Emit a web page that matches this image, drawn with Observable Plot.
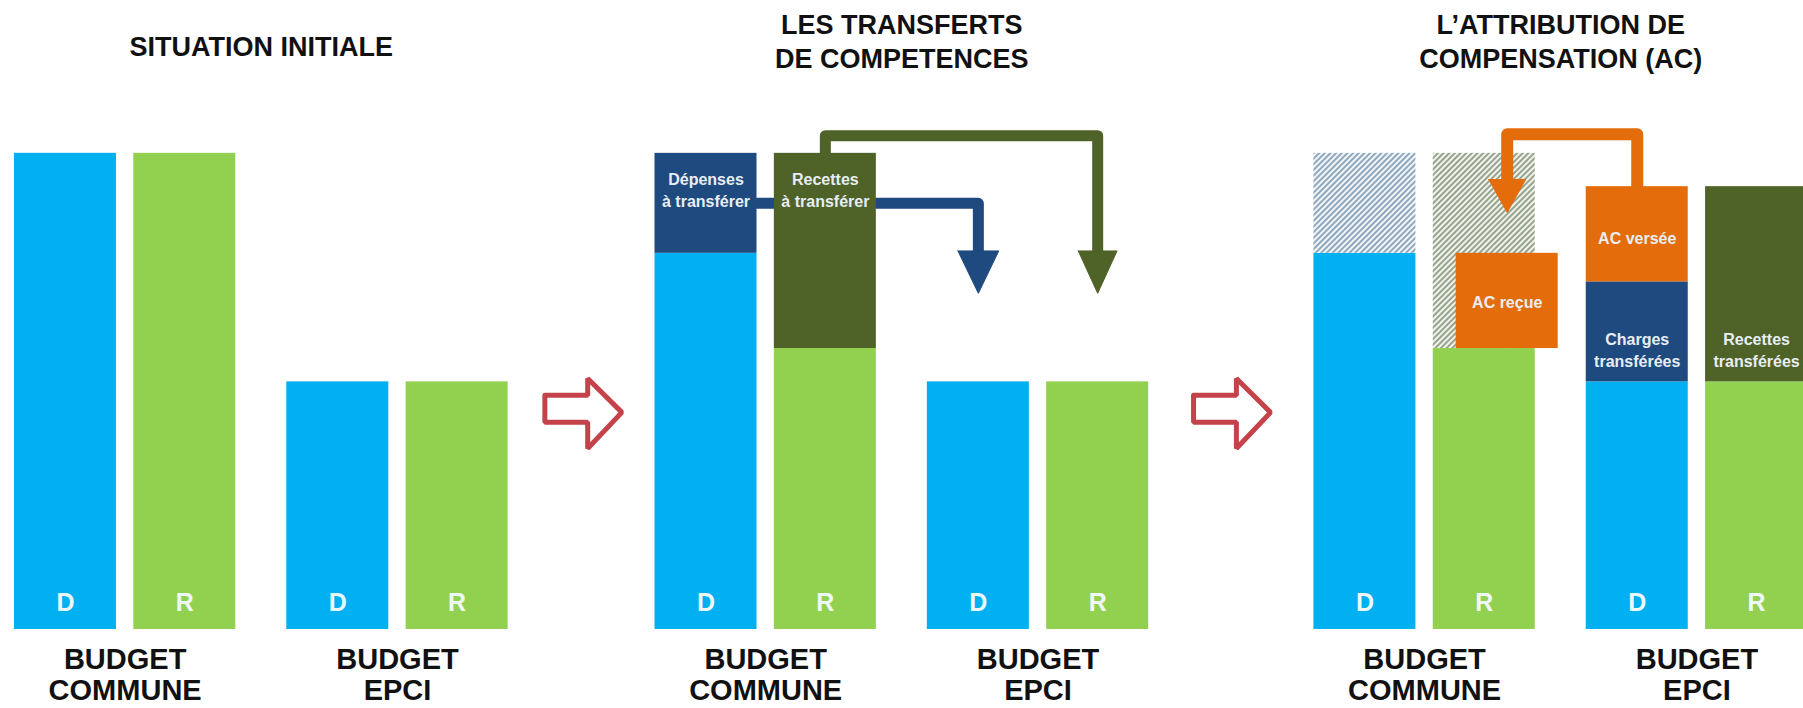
<!DOCTYPE html>
<html>
<head>
<meta charset="utf-8">
<script src="https://cdn.jsdelivr.net/npm/d3@7"></script>
<script src="https://cdn.jsdelivr.net/npm/@observablehq/plot@0.6"></script>
<style>
  html, body { margin: 0; padding: 0; background: #fff; }
  svg { display: block; }
</style>
</head>
<body>
<div id="chart"></div>
<script>
// ---------- data ----------
const stageTitles = ["SITUATION INITIALE", "LES TRANSFERTS\nDE COMPETENCES", "L’ATTRIBUTION DE\nCOMPENSATION (AC)"];
const budgetLabels = ["BUDGET\nCOMMUNE", "BUDGET\nEPCI"];
const columnLetters = ["D", "R", "D", "R"];

// stacked segments: [stage, column, from, to, kind]  (commune budget = 100)
const segments = [
  [0, 0, 0, 100, "lightBlue"],
  [0, 1, 0, 100, "lightGreen"],
  [0, 2, 0, 52, "lightBlue"],
  [0, 3, 0, 52, "lightGreen"],
  [1, 0, 0, 79, "lightBlue"],
  [1, 0, 79, 100, "darkBlue"],
  [1, 1, 0, 59, "lightGreen"],
  [1, 1, 59, 100, "darkGreen"],
  [1, 2, 0, 52, "lightBlue"],
  [1, 3, 0, 52, "lightGreen"],
  [2, 0, 0, 79, "lightBlue"],
  [2, 0, 79, 100, "hatchD"],
  [2, 1, 0, 59, "lightGreen"],
  [2, 1, 59, 100, "hatchR"],
  [2, 2, 0, 52, "lightBlue"],
  [2, 2, 52, 73, "darkBlue"],
  [2, 2, 73, 93, "orange"],
  [2, 3, 0, 52, "lightGreen"],
  [2, 3, 52, 93, "darkGreen"]
];
// AC reçue box (stage 3, shifted over the commune R column)
const acRecue = [[2, 1, 59, 79, "orange"]];

// box labels: [stage, column, value, text]
const boxLabels = [
  [1, 0, 92.5, "Dépenses\nà transférer"],
  [1, 1, 92.5, "Recettes\nà transférer"],
  [2, 2, 82.5, "AC versée"],
  [2, 2, 59, "Charges\ntransférées"],
  [2, 3, 59, "Recettes\ntransférées"]
];
const acRecueLabel = [[2, 1, 69, "AC reçue"]];

// ---------- layout ----------
const stageStart = [0, 6.28, 12.74];
const columnOffset = [0, 1.17, 2.67, 3.84];
const barW = 1;
const acShift = 0.225;
const palette = {
  lightBlue: "#00b0f0", lightGreen: "#92d050", darkBlue: "#1f4a80",
  darkGreen: "#4f6228", orange: "#e46c0a", hatchD: "url(#hatchD)", hatchR: "url(#hatchR)"
};
const colX = (s, c) => stageStart[s] + columnOffset[c];
const toRect = (shift = 0) => ([s, c, a, b, kind]) => ({x1: colX(s, c) + shift, x2: colX(s, c) + shift + barW, y1: a, y2: b, kind});
const rects = segments.map(toRect());
const acRects = acRecue.map(toRect(acShift));

// letters under each bar
const letterData = [];
stageStart.forEach((_, s) => columnLetters.forEach((t, c) => letterData.push({x: colX(s, c) + barW / 2, text: t})));
// titles and budget captions
const stageCenter = s => stageStart[s] + (columnOffset[3] + barW) / 2;
const titleData = stageTitles.map((t, s) => ({x: stageCenter(s), y: t.includes("\n") ? 123.8 : 122.8, text: t}));
const budgetData = [];
stageStart.forEach((_, s) => {
  budgetData.push({x: stageStart[s] + (columnOffset[1] + barW) / 2, text: budgetLabels[0]});
  budgetData.push({x: stageStart[s] + (columnOffset[2] + columnOffset[3] + barW) / 2, text: budgetLabels[1]});
});
const boxLabelData = boxLabels.map(([s, c, v, t]) => ({x: colX(s, c) + barW / 2, y: v, text: t}))
  .concat(acRecueLabel.map(([s, c, v, t]) => ({x: colX(s, c) + acShift + barW / 2, y: v, text: t})));

// flow arrows
const cx = (s, c) => colX(s, c) + barW / 2;
const blueLine = [{x: colX(1, 0) + barW, y: 89.5}, {x: cx(1, 2), y: 89.5}, {x: cx(1, 2), y: 79}];
const greenLine = [{x: cx(1, 1), y: 100}, {x: cx(1, 1), y: 103.7}, {x: cx(1, 3), y: 103.7}, {x: cx(1, 3), y: 79}];
const orangeLine = [{x: cx(2, 2), y: 93}, {x: cx(2, 2), y: 104}, {x: cx(2, 1) + acShift, y: 104}, {x: cx(2, 1) + acShift, y: 94}];
const head = (x, top, tip, hw) => [{x: x - hw, y: top}, {x: x + hw, y: top}, {x, y: tip}, {x: x - hw, y: top}];
const blueHead = head(cx(1, 2), 79.5, 70.6, 0.2);
const greenHead = head(cx(1, 3), 79.5, 70.6, 0.19);
const orangeHead = head(cx(2, 1) + acShift, 94.5, 87.6, 0.18);

// hollow red arrows between stages
const redArrowStart = [5.2, 11.56];
const redArrow = x0 => [
  [0, 49.2], [0.42, 49.2], [0.42, 52.7], [0.755, 45.6], [0.42, 38.0], [0.42, 43.5], [0, 43.5], [0, 49.2]
].map(([dx, y]) => ({x: x0 + dx, y, id: x0}));
const redData = redArrowStart.flatMap(redArrow);

const font = "'Liberation Sans', Arial, sans-serif";
const kinds = Object.keys(palette);

const svg = Plot.plot({
  width: 1803, height: 708, margin: 0,
  x: {domain: [-0.137, 17.54], axis: null},
  y: {domain: [-16.6, 132.1], axis: null},
  style: {fontFamily: font, background: "white", overflow: "hidden"},
  marks: [
    Plot.line(blueLine, {x: "x", y: "y", stroke: palette.darkBlue, strokeWidth: 11, strokeLinejoin: "round"}),
    ...kinds.map(k => Plot.rect(rects.filter(d => d.kind === k), {x1: "x1", x2: "x2", y1: "y1", y2: "y2", fill: palette[k]})),
    Plot.rect(acRects, {x1: "x1", x2: "x2", y1: "y1", y2: "y2", fill: palette.orange}),
    Plot.line(greenLine, {x: "x", y: "y", stroke: palette.darkGreen, strokeWidth: 11, strokeLinejoin: "round"}),
    Plot.line(orangeLine, {x: "x", y: "y", stroke: palette.orange, strokeWidth: 12, strokeLinejoin: "round"}),
    Plot.line(blueHead, {x: "x", y: "y", stroke: palette.darkBlue, fill: palette.darkBlue, strokeWidth: 1}),
    Plot.line(greenHead, {x: "x", y: "y", stroke: palette.darkGreen, fill: palette.darkGreen, strokeWidth: 1}),
    Plot.line(orangeHead, {x: "x", y: "y", stroke: palette.orange, fill: palette.orange, strokeWidth: 1}),
    Plot.line(redData, {x: "x", y: "y", z: "id", stroke: "#c4434b", fill: "white", strokeWidth: 5, strokeLinejoin: "miter"}),
    Plot.text(boxLabelData, {x: "x", y: "y", text: "text", fill: "#e8eef4", fontSize: 16, fontWeight: "bold", lineHeight: 1.4, fontFamily: font}),
    Plot.text(letterData, {x: "x", y: 5.5, text: "text", fill: "#eef8fc", fontSize: 25, fontWeight: "bold", fontFamily: font}),
    Plot.text(titleData, {x: "x", y: "y", text: "text", fill: "#111", fontSize: 27, fontWeight: "bold", lineHeight: 1.27, fontFamily: font}),
    Plot.text(budgetData, {x: "x", y: -9.5, text: "text", fill: "#111", fontSize: 29, fontWeight: "bold", lineHeight: 1.07, fontFamily: font})
  ]
});

// hatch patterns
const defs = d3.select(svg).insert("defs", ":first-child");
[["hatchD", "#f3f6f9", "#8fa8bd"], ["hatchR", "#f1f3ee", "#98a38c"]].forEach(([id, bg, fg]) => {
  const p = defs.append("pattern").attr("id", id).attr("width", 4).attr("height", 4)
    .attr("patternUnits", "userSpaceOnUse").attr("patternTransform", "rotate(45)");
  p.append("rect").attr("width", 4).attr("height", 4).attr("fill", bg);
  p.append("line").attr("x1", 1).attr("y1", 0).attr("x2", 1).attr("y2", 4).attr("stroke", fg).attr("stroke-width", 2);
});

document.getElementById("chart").appendChild(svg);
</script>
</body>
</html>
